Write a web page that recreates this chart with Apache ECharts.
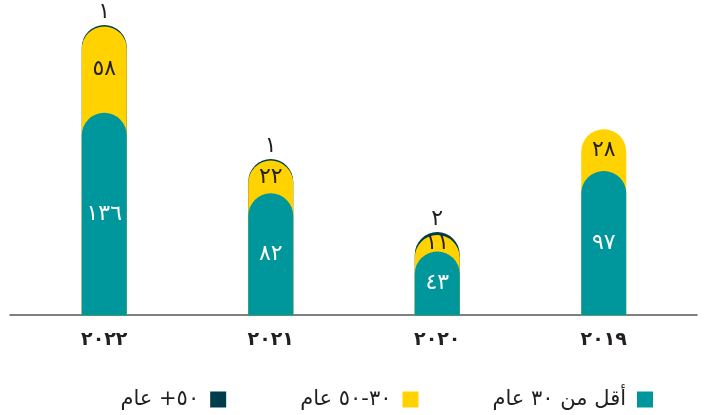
<!DOCTYPE html>
<html>
<head>
<meta charset="utf-8">
<script src="https://cdn.jsdelivr.net/npm/echarts@6/dist/echarts.min.js"></script>
<style>
  html, body { margin: 0; padding: 0; background: #ffffff; }
  #chart { width: 704px; height: 415px; }
</style>
</head>
<body>
<div id="chart"></div>
<script>
// Age groups per year
const years = ['2019', '2020', '2021', '2022'];
const under30 = [97, 43, 82, 136];
const from30to50 = [28, 11, 22, 58];
const over50 = [null, 2, 1, 1];

const seriesNames = ['أقل من ٣٠ عام', '٣٠-٥٠ عام', '٥٠+ عام'];
const colors = ['#00979c', '#ffd200', '#003c4b'];
const textDark = '#231f20';
const FONT = "'DejaVu Sans', sans-serif";

// Western digits -> Arabic-Indic digits
const arDigits = '٠١٢٣٤٥٦٧٨٩';
function toArabic(v) {
  return String(v).replace(/[0-9]/g, d => arDigits[+d]);
}

// Each band is drawn as an overlapping bar from zero up to its running total,
// so every layer keeps its own rounded cap on top of the one behind it.
const cumYellow = under30.map((v, i) => v + from30to50[i]);
const cumDark = cumYellow.map((v, i) => over50[i] == null ? null : v + over50[i]);

const radius = [23, 23, 0, 0];

const tealData = under30.map(v => ({ value: v }));
const yellowData = cumYellow.map((total, i) => {
  // place the label at the middle of the visible yellow band
  const fromTop = (from30to50[i] / 2) / total * 100;
  return {
    value: total,
    label: { position: ['50%', fromTop.toFixed(2) + '%'] },
    raw: from30to50[i]
  };
});
const darkData = cumDark.map((total, i) => ({ value: total, raw: over50[i] }));

const chart = echarts.init(document.getElementById('chart'), null, { renderer: 'canvas' });

chart.setOption({
  animation: false,
  textStyle: { fontFamily: FONT },
  grid: [
    { left: 21, right: 17, top: 17.5, bottom: 99.5 },
    { left: 10, right: 7, top: 17.5, bottom: 100 }
  ],
  legend: {
    data: [seriesNames[2], seriesNames[1], seriesNames[0]],
    right: 46,
    top: 384,
    align: 'right',
    itemWidth: 16,
    itemHeight: 16,
    itemGap: 74,
    icon: 'rect',
    textStyle: { fontFamily: FONT, fontSize: 21, color: textDark, padding: [0, 6, 0, 0] }
  },
  xAxis: [
    {
      type: 'category',
      gridIndex: 0,
      data: years,
      inverse: true,
      axisLine: { show: false },
      axisTick: { show: false },
      axisLabel: {
        margin: 15,
        fontFamily: FONT,
        fontSize: 19,
        fontWeight: 'bold',
        color: textDark,
        formatter: v => toArabic(v)
      }
    },
    {
      type: 'category',
      gridIndex: 1,
      data: years,
      inverse: true,
      axisLine: { show: true, lineStyle: { color: '#555555', width: 1.5 } },
      axisTick: { show: false },
      axisLabel: { show: false }
    }
  ],
  yAxis: [
    { type: 'value', gridIndex: 0, min: 0, max: 200, show: false, splitLine: { show: false } },
    { type: 'value', gridIndex: 1, min: 0, max: 200, show: false, splitLine: { show: false } }
  ],
  series: [
    {
      name: seriesNames[2],
      type: 'bar',
      data: darkData,
      barWidth: 45,
      barGap: '-100%',
      z: 1,
      itemStyle: { color: colors[2], borderRadius: radius },
      label: {
        show: true,
        position: 'top',
        distance: 2,
        fontFamily: FONT,
        fontSize: 22,
        color: textDark,
        formatter: p => p.data.raw == null ? '' : toArabic(p.data.raw)
      }
    },
    {
      name: seriesNames[1],
      type: 'bar',
      data: yellowData,
      barWidth: 45,
      barGap: '-100%',
      z: 2,
      itemStyle: { color: colors[1], borderRadius: radius },
      label: {
        show: true,
        align: 'center',
        verticalAlign: 'middle',
        fontFamily: FONT,
        fontSize: 22,
        color: textDark,
        formatter: p => toArabic(p.data.raw)
      }
    },
    {
      name: seriesNames[0],
      type: 'bar',
      data: tealData,
      barWidth: 45,
      barGap: '-100%',
      z: 3,
      itemStyle: { color: colors[0], borderRadius: radius },
      label: {
        show: true,
        position: 'inside',
        fontFamily: FONT,
        fontSize: 22,
        color: '#ffffff',
        formatter: p => toArabic(p.value)
      }
    }
  ]
});
</script>
</body>
</html>
